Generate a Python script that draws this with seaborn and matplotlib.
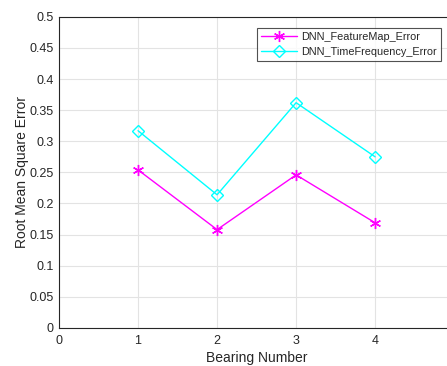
import matplotlib
matplotlib.use("Agg")
import matplotlib.pyplot as plt
import seaborn as sns
import pandas as pd

bearing = [1, 2, 3, 4]
feature_map_err = [0.254, 0.158, 0.246, 0.169]
time_freq_err = [0.317, 0.214, 0.362, 0.275]
labels = ["DNN_FeatureMap_Error", "DNN_TimeFrequency_Error"]
xticks = [0, 1, 2, 3, 4]
yticks = [0, 0.05, 0.1, 0.15, 0.2, 0.25, 0.3, 0.35, 0.4, 0.45, 0.5]
ytick_labels = ["0", "0.05", "0.1", "0.15", "0.2", "0.25", "0.3", "0.35", "0.4", "0.45", "0.5"]

sns.set_style("white")
plt.rcParams['font.family'] = ['Liberation Sans', 'DejaVu Sans']

df = pd.DataFrame({
    "Bearing": bearing * 2,
    "RMSE": feature_map_err + time_freq_err,
    "Series": [labels[0]] * 4 + [labels[1]] * 4,
})

fig = plt.figure(figsize=(4.47, 3.66), dpi=100)
ax = fig.add_axes([0.132, 0.104, 0.884, 0.850])

gridc = "#e3e3e3"
for t in yticks:
    ax.axhline(t, color=gridc, lw=0.8, zorder=0)
for t in xticks + [5]:
    ax.axvline(t, color=gridc, lw=0.8, zorder=0)

sns.lineplot(data=df[df.Series == labels[0]], x="Bearing", y="RMSE", ax=ax,
             color="#ff00ff", marker=(6, 2, 0), markersize=8, markeredgecolor="#ff00ff",
             markeredgewidth=1, lw=1, label=labels[0])
sns.lineplot(data=df[df.Series == labels[1]], x="Bearing", y="RMSE", ax=ax,
             color="#00ffff", marker="D", markersize=6, markerfacecolor="none",
             markeredgecolor="#00ffff", markeredgewidth=1, lw=1, label=labels[1])

ax.set_xlim(0, 5)
ax.set_ylim(0, 0.5)
ax.set_xticks(xticks)
ax.set_yticks(yticks)
ax.set_xticklabels([str(t) for t in xticks])
ax.set_yticklabels(ytick_labels)
tc = "#262626"
ax.tick_params(axis="both", direction="in", length=3, width=0.6, colors=tc,
               labelsize=9, labelcolor=tc)
ax.tick_params(axis="x", pad=5)
ax.tick_params(axis="y", pad=4)
for s in ax.spines.values():
    s.set_color(tc)
    s.set_linewidth(0.8)
ax.set_xlabel("Bearing Number", fontsize=10, color=tc, labelpad=3)
ax.set_ylabel("Root Mean Square Error", fontsize=10, color=tc, labelpad=0)

leg = ax.legend(loc="upper right", bbox_to_anchor=(0.966, 0.963), fontsize=7.8,
                frameon=True, fancybox=False, edgecolor=tc, borderpad=0.35,
                handlelength=3.3, handletextpad=0.4, labelspacing=0.45,
                borderaxespad=0)
leg.get_frame().set_linewidth(0.8)

fig.savefig("out.png", dpi=100)
